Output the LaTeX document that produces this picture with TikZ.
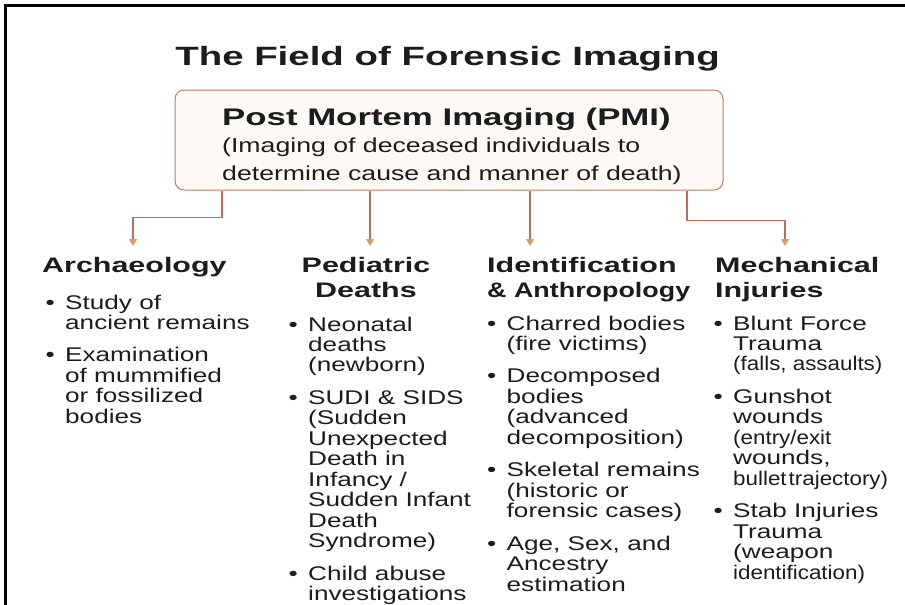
\documentclass[tikz,border=0pt]{standalone}
\usepackage{fontspec}
\setmainfont{Liberation Sans}[FakeStretch=1.45]
\newfontfamily\bodyfont{Liberation Sans}[FakeStretch=1.32]
\newfontfamily\condfont{Liberation Sans}[FakeStretch=1.13]
\newfontfamily\tightfont{Liberation Sans}[FakeStretch=1.28]
\usepackage{xcolor}
\usetikzlibrary{arrows.meta}

\definecolor{boxline}{RGB}{196,123,107}
\definecolor{boxfill}{RGB}{253,249,244}
\definecolor{linkline}{RGB}{191,108,92}
\definecolor{tipfill}{RGB}{218,154,102}
\definecolor{ink}{RGB}{28,28,28}

\newcommand{\bul}{\makebox[19.5pt][l]{\textbullet}}

\begin{document}
\begin{tikzpicture}[x=1pt, y=-1pt,
    heading/.style={inner sep=0pt, text=ink, font=\fontsize{21}{25}\selectfont\bfseries},
    itemlist/.style={inner sep=0pt, anchor=base west, text=ink, font=\bodyfont\fontsize{19.8}{20.4}\selectfont},
    link/.style={draw=linkline, line width=1.3pt, -{Triangle[length=7pt, width=8pt, color=tipfill]}}]
                        \useasboundingbox (0,0) rectangle (905,605);
                        \draw[line width=3pt] (5.5,605) -- (5.5,5.5) -- (905,5.5);
                        \node[inner sep=0pt, anchor=base, text=ink, font=\fontsize{26.5}{30}\selectfont\bfseries] (title) at (447.5,65.5) {The Field of Forensic Imaging};
                        \node[draw=boxline, fill=boxfill, line width=1pt, rounded corners=9pt, minimum width=548pt, minimum height=100pt, inner sep=0pt] (pmi) at (449,140) {};
                        \node[inner sep=0pt, anchor=base west, text=ink, font=\bodyfont\fontsize{20.2}{27.5}\selectfont] (pmitext) at (222,125) {\begin{tabular}[t]{@{}l@{}}
                            {\normalfont\fontsize{24}{27}\selectfont\bfseries Post Mortem Imaging (PMI)}\\
                            (Imaging of deceased individuals to\\
                            determine cause and manner of death)
                        \end{tabular}};
                        \node[heading, anchor=base west] (arch) at (42,272) {Archaeology};
                        \node[heading, anchor=base] (ped) at (366,272) {\begin{tabular}[t]{@{}c@{}}Pediatric\\Deaths\end{tabular}};
                        \node[heading, anchor=base west] (ident) at (487,272) {\begin{tabular}[t]{@{}l@{}}Identification\\{\tightfont\bfseries \& Anthropology}\end{tabular}};
                        \node[heading, anchor=base west] (mech) at (715,272) {\begin{tabular}[t]{@{}l@{}}Mechanical\\Injuries\end{tabular}};
                        \coordinate (archtip) at (133,246);
                        \coordinate (pedtip) at (370,246);
                        \coordinate (identtip) at (530,246);
                        \coordinate (mechtip) at (785,246);
                        \draw[link] ([xshift=-227pt]pmi.south) -- ++(0,27) -| (archtip);
                        \draw[link] (pmi.south -| pedtip) -- (pedtip);
                        \draw[link] (pmi.south -| identtip) -- (identtip);
                        \draw[link] ([xshift=238pt]pmi.south) -- ++(0,30) -| (mechtip);
                        \node[itemlist] (archlist) at (45.5,309) {\begin{tabular}[t]{@{}l@{}l@{}}
                            \bul & Study of\\ & ancient remains\\[12pt]
                            \bul & Examination\\ & of mummified\\ & or fossilized\\ & bodies
                        \end{tabular}};
                        \node[itemlist] (pedlist) at (288.5,331) {\begin{tabular}[t]{@{}l@{}l@{}}
                            \bul & Neonatal\\ & deaths\\ & (newborn)\\[12pt]
                            \bul & SUDI \& SIDS\\ & (Sudden\\ & Unexpected\\ & Death in\\ & Infancy /\\ & Sudden Infant\\ & Death\\ & Syndrome)\\[12pt]
                            \bul & Child abuse\\ & investigations
                        \end{tabular}};
                        \node[itemlist] (identlist) at (487,330) {\begin{tabular}[t]{@{}l@{}l@{}}
                            \bul & Charred bodies\\ & (fire victims)\\[12pt]
                            \bul & Decomposed\\ & bodies\\ & (advanced\\ & decomposition)\\[12pt]
                            \bul & Skeletal remains\\ & (historic or\\ & forensic cases)\\[12pt]
                            \bul & Age, Sex, and\\ & Ancestry\\ & estimation
                        \end{tabular}};
                        \node[itemlist] (mechlist) at (713.5,330) {\begin{tabular}[t]{@{}l@{}l@{}}
                            \bul & Blunt Force\\ & Trauma\\ & {\condfont (falls, assaults)}\\[12pt]
                            \bul & Gunshot\\ & wounds\\ & {\condfont (entry/exit}\\ & wounds,\\ & {\condfont bullet\hspace{2pt}trajectory)}\\[12pt]
                            \bul & Stab Injuries\\ & Trauma\\ & (weapon\\ & {\condfont identification)}
                        \end{tabular}};
                    \end{tikzpicture}
\end{document}
